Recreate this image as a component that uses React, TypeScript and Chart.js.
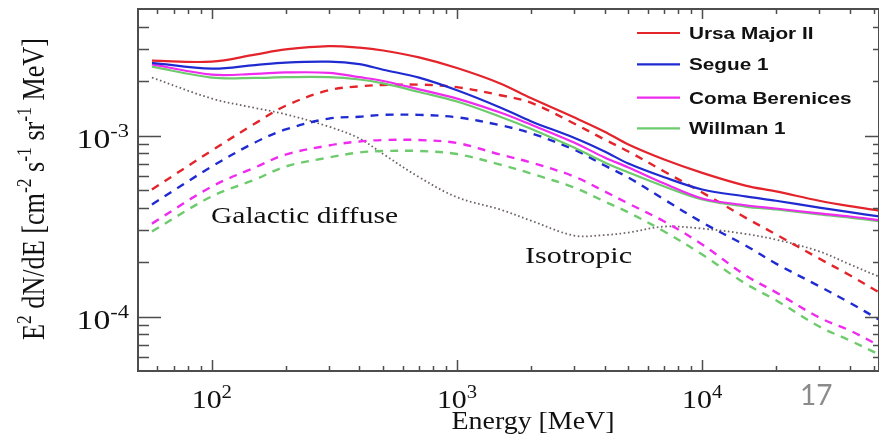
import React, { useEffect, useRef } from "react";
import { Chart, registerables } from "chart.js";
Chart.register(...registerables);

// ---------- data ----------
const energies = [57, 100, 150, 200, 300, 400, 500, 700, 1000, 1500, 2000, 3000, 4000, 5000, 7000, 10000, 15000, 20000, 30000, 40000, 52600];

const ursaTotal = [2.59e-3, 2.56e-3, 2.80e-3, 2.99e-3, 3.12e-3, 3.06e-3, 2.95e-3, 2.70e-3, 2.36e-3, 1.94e-3, 1.61e-3, 1.26e-3, 1.05e-3, 8.92e-4, 7.37e-4, 6.22e-4, 5.29e-4, 4.91e-4, 4.36e-4, 4.07e-4, 3.85e-4];
const segueTotal = [2.52e-3, 2.34e-3, 2.45e-3, 2.53e-3, 2.56e-3, 2.48e-3, 2.31e-3, 2.09e-3, 1.78e-3, 1.43e-3, 1.20e-3, 9.71e-4, 8.16e-4, 7.00e-4, 5.88e-4, 5.03e-4, 4.61e-4, 4.36e-4, 4.00e-4, 3.77e-4, 3.57e-4];
const comaTotal = [2.47e-3, 2.17e-3, 2.19e-3, 2.23e-3, 2.22e-3, 2.10e-3, 2.00e-3, 1.80e-3, 1.60e-3, 1.34e-3, 1.15e-3, 9.15e-4, 7.56e-4, 6.66e-4, 5.43e-4, 4.49e-4, 4.12e-4, 3.95e-4, 3.71e-4, 3.57e-4, 3.41e-4];
const willmanTotal = [2.40e-3, 2.09e-3, 2.08e-3, 2.10e-3, 2.10e-3, 2.04e-3, 1.94e-3, 1.74e-3, 1.54e-3, 1.27e-3, 1.09e-3, 8.58e-4, 7.10e-4, 6.25e-4, 5.23e-4, 4.43e-4, 4.05e-4, 3.90e-4, 3.66e-4, 3.52e-4, 3.36e-4];

const ursaDM = [5.03e-4, 8.26e-4, 1.165e-3, 1.46e-3, 1.78e-3, 1.87e-3, 1.90e-3, 1.91e-3, 1.85e-3, 1.67e-3, 1.52e-3, 1.165e-3, 9.50e-4, 8.16e-4, 6.33e-4, 4.84e-4, 3.52e-4, 2.84e-4, 2.09e-4, 1.69e-4, 1.36e-4];
const segueDM = [4.16e-4, 6.74e-4, 9.15e-4, 1.08e-3, 1.24e-3, 1.27e-3, 1.30e-3, 1.30e-3, 1.26e-3, 1.14e-3, 1.03e-3, 8.37e-4, 6.83e-4, 5.86e-4, 4.43e-4, 3.31e-4, 2.47e-4, 1.96e-4, 1.47e-4, 1.19e-4, 9.62e-5];
const comaDM = [3.26e-4, 5.23e-4, 6.66e-4, 7.85e-4, 8.81e-4, 9.27e-4, 9.44e-4, 9.44e-4, 9.09e-4, 7.85e-4, 7.10e-4, 5.94e-4, 4.91e-4, 4.21e-4, 3.35e-4, 2.50e-4, 1.69e-4, 1.36e-4, 9.87e-5, 8.37e-5, 6.92e-5];
const willmanDM = [2.95e-4, 4.61e-4, 5.71e-4, 6.74e-4, 7.56e-4, 8.06e-4, 8.21e-4, 8.21e-4, 7.90e-4, 6.91e-4, 6.17e-4, 5.16e-4, 4.32e-4, 3.76e-4, 2.95e-4, 2.20e-4, 1.52e-4, 1.23e-4, 8.81e-5, 7.37e-5, 6.17e-5];

const background = [2.09e-3, 1.60e-3, 1.42e-3, 1.31e-3, 1.12e-3, 9.63e-4, 7.90e-4, 5.89e-4, 4.56e-4, 3.90e-4, 3.39e-4, 2.80e-4, 2.82e-4, 2.91e-4, 3.14e-4, 3.06e-4, 2.86e-4, 2.66e-4, 2.29e-4, 1.94e-4, 1.66e-4];

const seriesNames = ["Ursa Major II", "Segue 1", "Coma Berenices", "Willman 1"];
const seriesColors = ["#e3242b", "#1f2bd0", "#ee2bee", "#6dcb6d"];
const totals = [ursaTotal, segueTotal, comaTotal, willmanTotal];
const darkMatter = [ursaDM, segueDM, comaDM, willmanDM];

const xMajorTicks = [100, 1000, 10000];
const yMajorTicks = [1e-4, 1e-3];
const xTitle = "Energy [MeV]";
const annotations = ["Galactic diffuse", "Isotropic"];
const pageNumber = "17";

// ---------- drawing helpers ----------
const SERIF = '"Liberation Serif", "Times New Roman", serif';
const SANS = '"Liberation Sans", Arial, sans-serif';
const LATO = 'Lato, "Open Sans", sans-serif';

type Run = { text: string; size: number; rise?: number; family?: string; weight?: string };

function runsWidth(ctx: CanvasRenderingContext2D, runs: Run[]) {
  let w = 0;
  for (const r of runs) {
    ctx.font = `${r.weight || "normal"} ${r.size}px ${r.family || SERIF}`;
    w += ctx.measureText(r.text).width;
  }
  return w;
}

function drawRuns(
  ctx: CanvasRenderingContext2D,
  runs: Run[],
  x: number,
  y: number,
  opts: { sx?: number; sy?: number; align?: string; rotate?: boolean; color?: string; fitWidth?: number }
) {
  ctx.save();
  const total = runsWidth(ctx, runs);
  let sx = opts.sx ?? 1;
  if (opts.fitWidth) sx = opts.fitWidth / total;
  const sy = opts.sy ?? 1;
  ctx.translate(x, y);
  if (opts.rotate) ctx.rotate(-Math.PI / 2);
  ctx.scale(sx, sy);
  ctx.fillStyle = opts.color || "#111";
  ctx.textAlign = "left";
  ctx.textBaseline = "alphabetic";
  let cur = 0;
  if (opts.align === "center") cur = -total / 2;
  else if (opts.align === "right") cur = -total;
  for (const r of runs) {
    ctx.font = `${r.weight || "normal"} ${r.size}px ${r.family || SERIF}`;
    ctx.fillText(r.text, cur, -(r.rise || 0));
    cur += ctx.measureText(r.text).width;
  }
  ctx.restore();
}

const decorPlugin = {
  id: "decor",
  afterDraw(chart: any) {
    const ctx: CanvasRenderingContext2D = chart.ctx;
    const a = chart.chartArea;
    const xs = chart.scales.x;
    const ys = chart.scales.y;
    const frame = "#4d4d4d";

    ctx.save();
    // ticks
    ctx.strokeStyle = frame;
    ctx.lineWidth = 1.5;
    ctx.beginPath();
    for (let d = 1; d <= 4; d++) {
      for (let m = 1; m <= 9; m++) {
        const v = m * Math.pow(10, d);
        if (v <= xs.min || v >= xs.max) continue;
        const px = Math.round(xs.getPixelForValue(v)) + 0.5;
        const major = m === 1;
        ctx.moveTo(px, a.bottom);
        ctx.lineTo(px, a.bottom - (major ? 11 : 5));
        ctx.moveTo(px, a.top);
        ctx.lineTo(px, a.top + (major ? 10 : 5));
      }
    }
    for (let d = -5; d <= -3; d++) {
      for (let m = 1; m <= 9; m++) {
        const v = m * Math.pow(10, d);
        if (v <= ys.min * 1.0001 || v >= ys.max * 0.9999) continue;
        const py = Math.round(ys.getPixelForValue(v)) + 0.5;
        const major = m === 1;
        ctx.moveTo(a.left, py);
        ctx.lineTo(a.left + (major ? 23 : 11), py);
        ctx.moveTo(a.right, py);
        ctx.lineTo(a.right - (major ? 14 : 6), py);
      }
    }
    ctx.stroke();

    // frame
    ctx.lineWidth = 2;
    ctx.strokeRect(a.left, a.top, a.right - a.left, a.bottom - a.top);
    ctx.restore();

    // x tick labels
    for (const v of xMajorTicks) {
      const px = xs.getPixelForValue(v);
      const e = String(Math.round(Math.log10(v)));
      drawRuns(ctx, [{ text: "10", size: 26 }, { text: e, size: 18, rise: 10 }], px, a.bottom + 37, { sx: 1.15, align: "center" });
    }
    // y tick labels
    for (const v of yMajorTicks) {
      const py = ys.getPixelForValue(v);
      const e = String(Math.round(Math.log10(v)));
      drawRuns(ctx, [{ text: "10", size: 27 }, { text: e, size: 18, rise: 11 }], a.left - 9, py + 12, { sx: 1.25, align: "right" });
    }

    // x title
    drawRuns(ctx, [{ text: xTitle, size: 25 }], 533, a.bottom + 58, { fitWidth: 163, align: "center" });

    // y title (rotated)
    const yRuns: Run[] = [
      { text: "E", size: 27 },
      { text: "2", size: 18, rise: 11 },
      { text: " dN/dE [cm", size: 27 },
      { text: "-2", size: 18, rise: 11 },
      { text: " s", size: 27 },
      { text: "-1", size: 18, rise: 11 },
      { text: " sr", size: 27 },
      { text: "-1", size: 18, rise: 11 },
      { text: " MeV]", size: 27 },
    ];
    drawRuns(ctx, yRuns, 44, 189, { rotate: true, fitWidth: 302, sy: 1.2, align: "center" });

    // annotations
    drawRuns(ctx, [{ text: annotations[0], size: 24 }], 211, 223, { fitWidth: 187 });
    drawRuns(ctx, [{ text: annotations[1], size: 24 }], 525, 263, { fitWidth: 107 });

    // legend
    const rowY = [33, 64.3, 97.7, 128.3];
    for (let i = 0; i < seriesNames.length; i++) {
      ctx.save();
      ctx.strokeStyle = seriesColors[i];
      ctx.lineWidth = 2.2;
      ctx.beginPath();
      ctx.moveTo(637, rowY[i]);
      ctx.lineTo(680, rowY[i]);
      ctx.stroke();
      ctx.restore();
      drawRuns(ctx, [{ text: seriesNames[i], size: 17, family: SANS, weight: "bold" }], 689, rowY[i] + 6, { sx: 1.22 });
    }

    // page number overlay
    drawRuns(ctx, [{ text: pageNumber, size: 28, family: LATO }], 800, 405, { color: "#8b8b8b" });
  },
};

export default function App() {
  const ref = useRef<HTMLCanvasElement | null>(null);
  useEffect(() => {
    if (!ref.current) return;
    const toPts = (vals: number[]) => energies.map((e, i) => ({ x: e, y: vals[i] }));
    const datasets: any[] = [];
    totals.forEach((vals, i) => {
      datasets.push({
        label: seriesNames[i],
        data: toPts(vals),
        borderColor: seriesColors[i],
        borderWidth: 2.2,
        pointRadius: 0,
        tension: 0.35,
        fill: false,
      });
    });
    darkMatter.forEach((vals, i) => {
      datasets.push({
        label: seriesNames[i] + " (DM)",
        data: toPts(vals),
        borderColor: seriesColors[i],
        borderWidth: 2.4,
        borderDash: [8, 7],
        pointRadius: 0,
        tension: 0.35,
        fill: false,
      });
    });
    datasets.push({
      label: "Background",
      data: toPts(background),
      borderColor: "#6e6464",
      borderWidth: 1.8,
      borderDash: [1.6, 2.6],
      pointRadius: 0,
      tension: 0.35,
      fill: false,
    });

    const chart = new Chart(ref.current, {
      type: "line",
      data: { datasets },
      options: {
        animation: false,
        responsive: false,
        maintainAspectRatio: false,
        layout: { padding: { left: 138, top: 9, right: 0, bottom: 67 } },
        plugins: { legend: { display: false }, tooltip: { enabled: false }, title: { display: false } },
        scales: {
          x: { type: "logarithmic", min: 50, max: 52600, display: false },
          y: { type: "logarithmic", min: 5e-5, max: 5e-3, display: false },
        },
      },
      plugins: [decorPlugin],
    } as any);
    return () => chart.destroy();
  }, []);

  return (
    <div style={{ position: "fixed", left: 0, top: 0, width: 879, height: 438, background: "#fff" }}>
      <canvas ref={ref} width={879} height={438} style={{ display: "block", width: 879, height: 438 }} />
    </div>
  );
}
